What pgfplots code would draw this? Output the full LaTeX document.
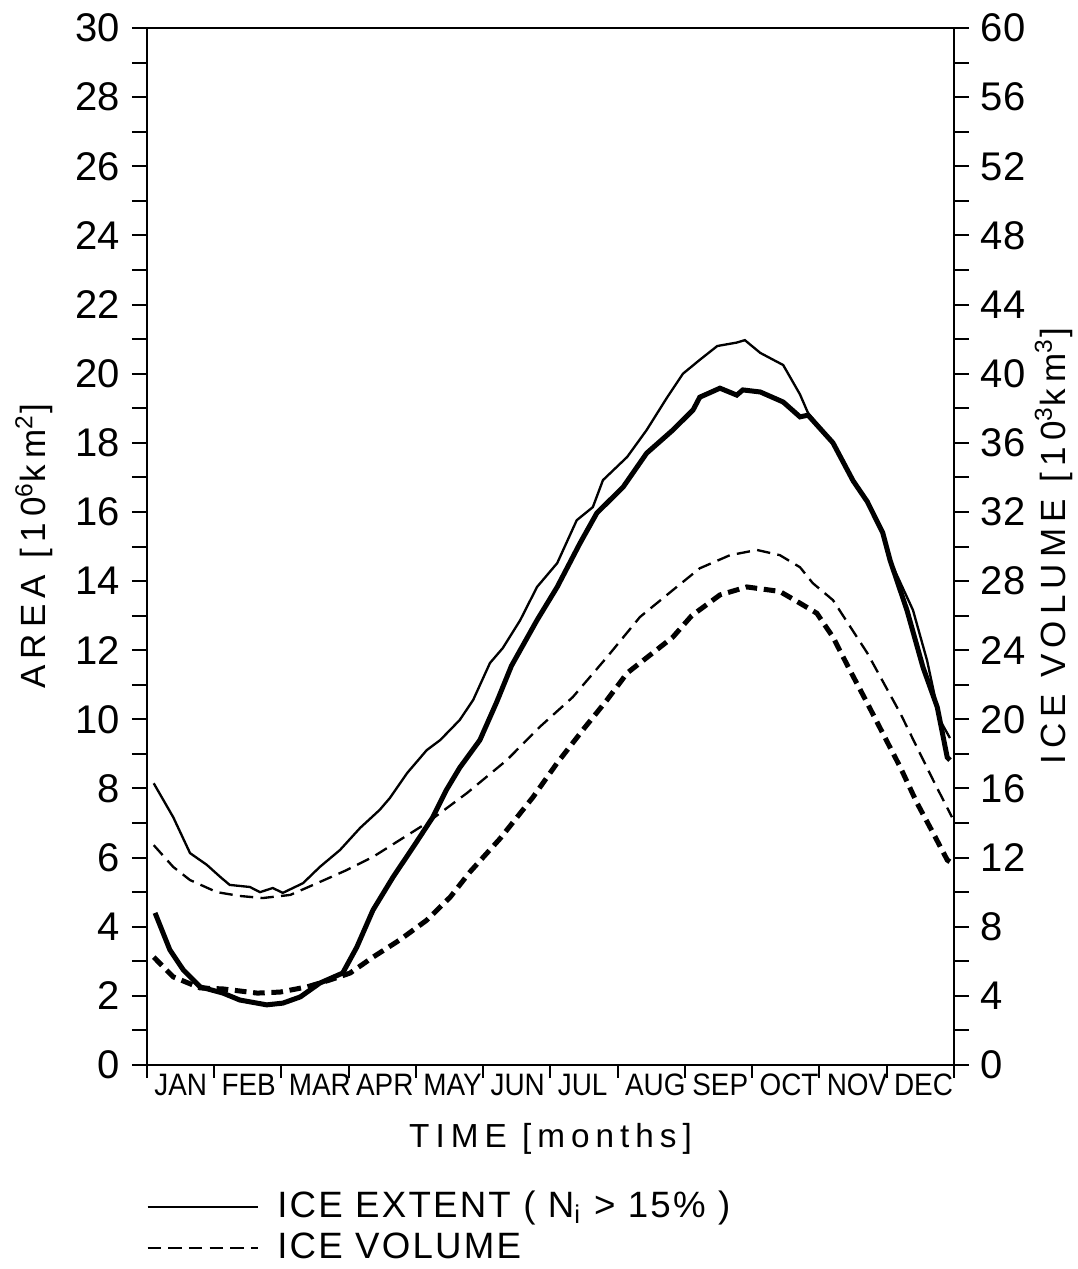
\documentclass[border=0pt]{standalone}
\usepackage{fontspec}
\setmainfont{Liberation Sans}
\newfontfamily\lab[LetterSpace=18]{Liberation Sans}
\newfontfamily\leg[LetterSpace=6]{Liberation Sans}
\newfontfamily\mon[FakeStretch=0.9]{Liberation Sans}
\usepackage{pgfplots}
\pgfplotsset{compat=1.18}

\pgfplotsset{
  icebase/.style={
    scale only axis, width=242.1pt, height=311.1pt,
    xmin=0, xmax=12,
    tick align=outside,
    major tick length=4.5pt, minor tick length=4.5pt,
    every tick/.style={black, line width=0.6pt},
    every minor tick/.style={black, line width=0.6pt},
    axis line style={line width=0.7pt},
    /pgf/number format/assume math mode=true,
    yticklabel style={font=\fontsize{12}{14}\selectfont},
    ylabel style={font=\lab\fontsize{10.5}{12}\selectfont},
  },
}

\begin{document}
\begin{tikzpicture}
\path[use as bounding box] (-44.1pt,-61.2pt) rectangle (279.3pt,319.5pt);

% area (left axis)
\begin{axis}[
  icebase,
  ymin=0, ymax=30,
  xtick pos=bottom, ytick pos=left,
  xtick={0,1,...,12}, xticklabels={},
  xtick style={/pgfplots/major tick length=3.8pt},
  extra x ticks={0,1,...,11},
  extra x tick labels={JAN,FEB,MAR,APR,MAY,JUN,JUL,AUG,SEP,OCT,NOV,DEC},
  extra x tick style={major tick length=0pt,
    xticklabel style={font=\mon\fontsize{9.3}{10}\selectfont, inner sep=0pt,
      anchor=north west, xshift=2pt, yshift=-2.5pt}},
  ytick={0,2,...,30}, minor ytick={1,3,...,29},
  xlabel={TIME [months]},
  xlabel style={font=\lab\fontsize{10}{11}\selectfont, yshift=2pt},
  ylabel={AREA [10\textsuperscript{6}km\textsuperscript{2}]},
  legend style={at={(-0.014,-0.108)}, anchor=north west, draw=none, fill=none,
    font=\leg\fontsize{11}{12.6}\selectfont, cells={anchor=west}, row sep=-1pt},
  legend image code/.code={\draw[#1] (0pt,0pt) -- (33pt,0pt); \path (36.6pt,0pt);},
]
\addplot[black, line width=0.7pt] coordinates {
(0.10,8.15)(0.39,7.17)(0.64,6.13)(0.89,5.79)(1.09,5.44)(1.23,5.21)(1.53,5.15)(1.68,5.00)
(1.87,5.12)(2.02,4.98)(2.32,5.26)(2.57,5.73)(2.87,6.22)(3.17,6.86)(3.46,7.38)(3.61,7.72)
(3.87,8.45)(4.16,9.11)(4.36,9.40)(4.65,9.98)(4.85,10.56)(5.10,11.63)(5.29,12.06)(5.55,12.87)
(5.80,13.83)(6.10,14.52)(6.39,15.76)(6.63,16.14)(6.78,16.92)(7.14,17.59)(7.43,18.37)(7.73,19.30)
(7.97,20.00)(8.22,20.40)(8.48,20.80)(8.77,20.90)(8.89,20.97)(9.12,20.60)(9.46,20.25)(9.71,19.40)
(9.83,18.86)(10.20,18.00)(10.50,16.90)(10.71,16.30)(10.94,15.40)(11.05,14.60)(11.39,13.16)
(11.60,11.70)(11.79,9.98)(11.94,9.46)};
\addlegendentry{ICE EXTENT ( N\textsubscript{i} > 15\% )}
\addplot[black, line width=1.5pt, forget plot] coordinates {
(0.12,4.40)(0.34,3.33)(0.54,2.75)(0.79,2.26)(1.13,2.08)(1.38,1.88)(1.78,1.74)(2.02,1.79)
(2.28,1.97)(2.57,2.37)(2.91,2.66)(3.12,3.41)(3.36,4.48)(3.66,5.44)(3.96,6.31)(4.25,7.17)
(4.45,7.95)(4.65,8.60)(4.95,9.40)(5.20,10.50)(5.42,11.55)(5.80,12.87)(6.10,13.83)(6.44,15.10)
(6.69,15.97)(7.08,16.72)(7.43,17.70)(7.82,18.37)(8.12,18.95)(8.22,19.32)(8.52,19.58)(8.77,19.38)
(8.86,19.53)(9.12,19.47)(9.46,19.18)(9.71,18.75)(9.83,18.80)(10.20,18.00)(10.50,16.90)
(10.71,16.30)(10.94,15.40)(11.05,14.60)(11.30,13.16)(11.54,11.50)(11.75,10.36)(11.90,8.90)
(11.94,8.82)};
\addlegendimage{black, line width=0.7pt, dash pattern=on 4pt off 2.2pt}
\addlegendentry{ICE VOLUME}
\end{axis}

% volume (right axis)
\begin{axis}[
  icebase,
  ymin=0, ymax=60,
  axis y line*=right, axis x line=none,
  ytick={0,4,...,60}, minor ytick={2,6,...,58},
  ylabel={ICE VOLUME [10\textsuperscript{3}km\textsuperscript{3}]},
  ylabel shift=-4pt,
]
\addplot[black, line width=0.7pt, dash pattern=on 4pt off 2.2pt] coordinates {
(0.10,12.72)(0.39,11.46)(0.64,10.70)(1.04,10.00)(1.38,9.78)(1.72,9.66)(2.13,9.84)(2.53,10.52)
(2.97,11.28)(3.36,12.04)(3.76,13.02)(4.16,14.00)(4.76,15.74)(5.35,17.64)(5.84,19.56)(6.33,21.28)
(6.84,23.60)(7.33,25.92)(7.82,27.48)(8.22,28.74)(8.67,29.50)(9.07,29.80)(9.41,29.50)(9.71,28.80)
(9.90,27.88)(10.20,26.90)(10.71,23.84)(11.20,20.36)(11.69,16.48)(11.97,14.34)};
\addplot[black, line width=1.5pt, dash pattern=on 3.5pt off 2pt] coordinates {
(0.10,6.24)(0.39,5.10)(0.79,4.46)(1.13,4.40)(1.64,4.16)(1.98,4.22)(2.38,4.52)(2.72,4.92)
(3.02,5.32)(3.36,6.24)(3.76,7.24)(4.16,8.38)(4.51,9.72)(4.80,11.16)(5.25,13.10)(5.74,15.50)
(6.10,17.48)(6.48,19.38)(6.84,21.12)(7.14,22.68)(7.52,23.84)(7.82,24.76)(8.10,26.00)(8.52,27.20)
(8.92,27.66)(9.41,27.40)(9.71,26.72)(9.96,26.14)(10.20,24.76)(10.45,22.86)(10.71,20.94)
(10.94,19.20)(11.20,17.24)(11.45,15.16)(11.69,13.42)(11.90,11.86)(11.97,11.68)};
\end{axis}
\end{tikzpicture}
\end{document}
